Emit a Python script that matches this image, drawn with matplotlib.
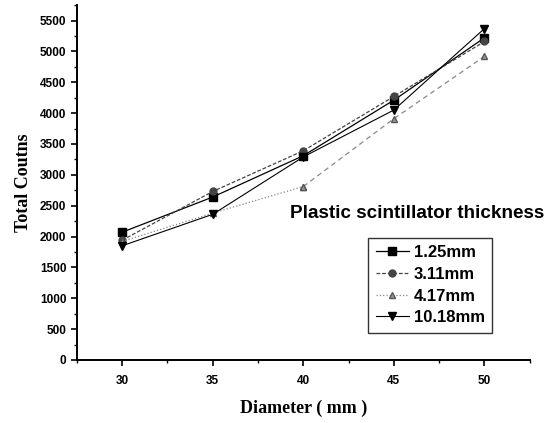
import numpy as np
import matplotlib.pyplot as plt
from matplotlib.ticker import MultipleLocator

# Data
diameter = [30, 35, 40, 45, 50]
t125 = [2070, 2640, 3310, 4210, 5220]
t311 = [1940, 2730, 3390, 4270, 5160]
t417 = [1920, 2380, 2810, 3910, 4920]
t1018 = [1850, 2360, 3290, 4050, 5370]
labels = ['1.25mm', '3.11mm', '4.17mm', '10.18mm']

fig = plt.figure(figsize=(5.53, 4.23), dpi=100)
ax = fig.add_axes([0.139, 0.149, 0.819, 0.839])

ax.plot(diameter, t125, color='black', lw=0.9, ls='-', marker='s', ms=5.5, label=labels[0])
ax.plot(diameter, t311, color='#444444', lw=0.9, ls=(0, (3, 1.5)), marker='o', ms=5, label=labels[1])
ax.plot(diameter[:3], t417[:3], color='#888888', lw=0.9, ls=':', marker='^', ms=5,
        markerfacecolor='#999999', markeredgecolor='#555555', label=labels[2])
ax.plot(diameter[2:], t417[2:], color='#888888', lw=0.9, ls=(0, (4, 3)), marker='^', ms=5,
        markerfacecolor='#999999', markeredgecolor='#555555')
ax.plot(diameter, t1018, color='black', lw=0.8, ls='-', marker='v', ms=6, label=labels[3])

ax.set_xlim(27.5, 52.5)
ax.set_ylim(0, 5750)
ax.xaxis.set_major_locator(MultipleLocator(5))
ax.xaxis.set_minor_locator(MultipleLocator(2.5))
ax.yaxis.set_major_locator(MultipleLocator(500))
ax.yaxis.set_minor_locator(MultipleLocator(250))
ax.tick_params(which='major', direction='out', length=4, width=1.2)
ax.tick_params(axis='x', which='major', pad=7)
ax.tick_params(which='minor', direction='out', length=2.5, width=1)
for lab in ax.get_xticklabels() + ax.get_yticklabels():
    lab.set_fontweight('bold')
    lab.set_fontsize(8.5)
    lab.set_family('Liberation Sans')

for s in ['top', 'right']:
    ax.spines[s].set_visible(False)
for s in ['left', 'bottom']:
    ax.spines[s].set_linewidth(1.4)

ax.set_xlabel('Diameter ( mm )', family='Liberation Serif', fontweight='bold', fontsize=13, labelpad=9)
ax.set_ylabel('Total Coutns', family='Liberation Serif', fontweight='bold', fontsize=13, labelpad=6)

ax.text(0.47, 0.414, 'Plastic scintillator thickness', transform=ax.transAxes,
        family='Liberation Sans', fontweight='bold', fontsize=13.6, va='center')

leg = ax.legend(loc='lower right', bbox_to_anchor=(0.936, 0.053), frameon=True, fancybox=False,
                edgecolor='black', handlelength=2.0, handletextpad=0.3, borderpad=0.45,
                labelspacing=0.4, prop={'family': 'Liberation Sans', 'weight': 'bold', 'size': 12})
leg.get_frame().set_linewidth(1)

fig.savefig('out.png', dpi=100)
